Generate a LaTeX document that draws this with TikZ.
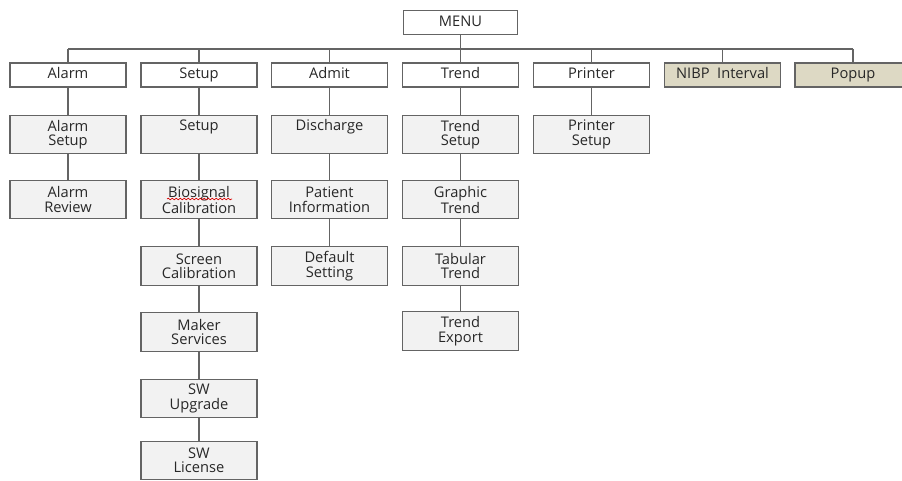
\documentclass[tikz,border=0pt]{standalone}
\usepackage{fontspec}
\setmainfont{Open Sans}
\usetikzlibrary{positioning,calc,decorations.pathmorphing}
\definecolor{LineG}{RGB}{100,100,100}
\definecolor{BoxG} {RGB}{242,242,242}
\definecolor{Tan}  {RGB}{221,217,196}
\definecolor{TextD}{RGB}{40,40,40}

\tikzset{
  item/.style={draw=LineG,line width=0.95pt,minimum width=87pt,minimum height=18pt,
    inner sep=0pt,font=\fontsize{11}{10.8}\selectfont,text=TextD,align=center},
  oneline/.style={text height=7.9pt,text depth=2.5pt},
  topbox/.style={item,oneline,fill=white},
  optbox/.style={item,oneline,fill=Tan},
  subbox/.style={item,fill=BoxG,minimum height=29pt},
  % one line of text set where the first of two lines would be
  upper/.style={text height=7.9pt,text depth=13.3pt},
  link/.style={draw=LineG,line width=0.95pt}
}

\begin{document}
\begin{tikzpicture}[x=0.75pt,y=-0.75pt]
  \useasboundingbox (0,0) rectangle (902,481);
  \clip (0,0) rectangle (902,481);

  % root
  \node[topbox,minimum width=86pt] (menu) at (460.5,22.5) {MENU};

  % first level
  \node[topbox] (alarm)   at (68,75)    {Alarm};
  \node[topbox] (setup)   at (199,75)   {Setup};
  \node[topbox] (admit)   at (329.5,75) {Admit};
  \node[topbox] (trend)   at (460.5,75) {Trend};
  \node[topbox] (printer) at (591.5,75) {Printer};
  \node[optbox] (nibp)    at (722.5,75) {NIBP\ \ Interval};
  \node[optbox] (popup)   at (853,75)   {Popup};

  % bus
  \coordinate (bus) at (0,49);
  \draw[link] (menu.south) -- (menu.south |- bus);
  \draw[link] (alarm.north |- bus) -- (popup.north |- bus);
  \foreach \n in {alarm,setup,admit,trend,printer,nibp,popup}
    \draw[link] (\n.north |- bus) -- (\n.north);

  % alarm column
  \node[subbox] (alset) at (68,134.5) {Alarm\\Setup};
  \node[subbox] (alrev) at (68,199.5) {Alarm\\Review};
  \draw[link] (alarm) -- (alset);
  \draw[link] (alset) -- (alrev);

  % setup column
  \node[subbox,upper] (suset) at (199,134.5) {Setup};
  \node[subbox] (bio)   at (199,199.5) {Biosignal\\Calibration};
  \node[subbox] (scr)   at (199,266)   {Screen\\Calibration};
  \node[subbox] (maker) at (199,332)   {Maker\\Services};
  \node[subbox] (swup)  at (199,398.5) {SW\\Upgrade};
  \node[subbox] (swlic) at (199,460.5) {SW\\License};
  \draw[link] (setup) -- (suset) -- (bio) -- (scr) -- (maker) -- (swup) -- (swlic);
  \draw[red!85!black,line width=0.5pt,decorate,
        decoration={snake,amplitude=0.6pt,segment length=3pt}]
    (167,199) -- (232,199);

  % admit column
  \node[subbox,upper] (disch) at (329.5,134.5) {Discharge};
  \node[subbox] (pinfo) at (329.5,199.5) {Patient\\Information};
  \node[subbox] (defset) at (329.5,266)  {Default\\Setting};
  \draw[link] (admit) -- (disch) -- (pinfo) -- (defset);

  % trend column
  \node[subbox] (trset) at (460.5,134.5) {Trend\\Setup};
  \node[subbox] (graph) at (460.5,199.5) {Graphic\\Trend};
  \node[subbox] (tab)   at (460.5,266)   {Tabular\\Trend};
  \node[subbox] (trexp) at (460.5,331)   {Trend\\Export};
  \draw[link] (trend) -- (trset) -- (graph) -- (tab) -- (trexp);

  % printer column
  \node[subbox] (prset) at (591.5,134.5) {Printer\\Setup};
  \draw[link] (printer) -- (prset);
\end{tikzpicture}
\end{document}
